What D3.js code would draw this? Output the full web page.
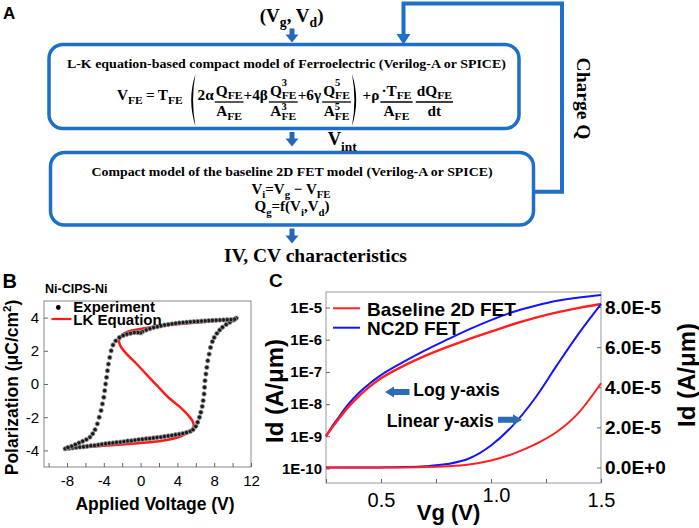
<!DOCTYPE html>
<html><head><meta charset="utf-8">
<script src="https://cdn.jsdelivr.net/npm/d3@7"></script>
<style>body{margin:0;background:#fff}svg{display:block}</style>
</head><body>
<svg id="c" width="699" height="528"></svg>
<script>
// ---------------- DATA ----------------
// Panel B: measured hysteresis (forward branch then reverse branch)
const expV = [-8.2,-7.8,-7.4,-7.0,-6.6,-6.2,-5.8,-5.4,-5.0,-4.6,-4.2,-3.8,-3.4,-3.0,-2.6,-2.2,-1.8,-1.4,-1.0,-0.6,-0.2,0.2,0.6,1.0,1.4,1.8,2.2,2.6,3.0,3.4,3.8,4.2,4.6,5.0,5.4,5.7,6.0,6.2,6.4,6.55,6.7,6.8,6.9,6.95,7.0,7.1,7.2,7.3,7.45,7.6,7.8,8.0,8.3,8.6,8.9,9.3,9.7,10.1,10.4,
  10.2,9.8,9.4,9.0,8.6,8.2,7.8,7.4,7.0,6.6,6.2,5.8,5.4,5.0,4.6,4.2,3.8,3.4,3.0,2.6,2.2,1.8,1.4,1.0,0.6,0.2,0.0,-0.3,-0.7,-1.1,-1.5,-1.9,-2.3,-2.7,-3.0,-3.2,-3.35,-3.5,-3.6,-3.7,-3.8,-3.9,-4.0,-4.15,-4.3,-4.5,-4.7,-4.95,-5.2,-5.5,-5.9,-6.3,-6.7,-7.1,-7.5,-7.9];
const expP = [-3.9,-3.88,-3.85,-3.82,-3.8,-3.78,-3.75,-3.72,-3.7,-3.67,-3.63,-3.6,-3.57,-3.55,-3.52,-3.5,-3.47,-3.43,-3.42,-3.38,-3.35,-3.33,-3.3,-3.28,-3.25,-3.22,-3.2,-3.16,-3.13,-3.1,-3.06,-3.02,-2.98,-2.92,-2.85,-2.75,-2.55,-2.3,-2.0,-1.7,-1.35,-1.0,-0.6,-0.2,0.2,0.6,1.0,1.4,1.8,2.2,2.55,2.8,3.05,3.25,3.42,3.58,3.72,3.85,3.97,
  3.9,3.88,3.87,3.86,3.85,3.84,3.83,3.82,3.8,3.79,3.77,3.76,3.74,3.72,3.7,3.68,3.65,3.62,3.58,3.55,3.5,3.45,3.4,3.33,3.25,3.15,3.08,3.1,3.1,3.05,3.0,2.92,2.8,2.6,2.35,2.0,1.6,1.2,0.8,0.4,0.0,-0.4,-0.8,-1.2,-1.6,-2.0,-2.4,-2.75,-3.0,-3.2,-3.35,-3.45,-3.55,-3.65,-3.75,-3.82];
// Panel B: LK equation S-curve
const lkV = [-8.0,-6,-4,-2,0,2,3.5,4.5,5.3,5.75,5.7,5.2,4.2,3.0,1.8,0.6,-0.5,-1.5,-2.2,-2.35,-2.1,-1.4,-0.2,1.5,3.5,5.5,7.5,9.0,10.3];
const lkP = [-3.88,-3.8,-3.72,-3.64,-3.55,-3.45,-3.3,-3.12,-2.9,-2.6,-2.3,-1.9,-1.35,-0.8,-0.1,0.6,1.25,1.8,2.3,2.6,2.9,3.15,3.3,3.45,3.58,3.68,3.77,3.84,3.92];
const bXTicks = [-10,-8,-6,-4,-2,0,2,4,6,8,10,12];
const bXLabels = [-8,-4,0,4,8,12];
const bYTicks = [-4,-2,0,2,4];

// Panel C: Id-Vg
const vg = [0.25,0.275,0.3,0.35,0.4,0.45,0.5,0.6,0.7,0.8,0.9,1.0,1.1,1.2,1.3,1.4,1.5];
const baseLog = [1.0e-9,1.78e-9,2.95e-9,7.9e-9,1.78e-8,3.55e-8,6.3e-8,1.51e-7,3.16e-7,5.9e-7,1.05e-6,1.78e-6,3.02e-6,4.79e-6,7.08e-6,9.77e-6,1.29e-5];
const ncLog   = [1.0e-9,1.91e-9,3.31e-9,9.55e-9,2.24e-8,4.47e-8,7.94e-8,2.0e-7,4.68e-7,1.0e-6,2.09e-6,4.07e-6,7.24e-6,1.12e-5,1.62e-5,2.04e-5,2.45e-5];
const baseLin = [0,0,0,0,0,0,0,0.005e-5,0.02e-5,0.06e-5,0.15e-5,0.35e-5,0.68e-5,1.15e-5,1.78e-5,2.75e-5,4.2e-5];
const ncLin   = [0,0,0,0,0,0,0.005e-5,0.02e-5,0.06e-5,0.17e-5,0.45e-5,1.1e-5,2.1e-5,3.45e-5,5.1e-5,6.7e-5,8.15e-5];
const cLogTicks = [1e-10,1e-9,1e-8,1e-7,1e-6,1e-5];
const cLinTicks = [0,2e-5,4e-5,6e-5,8e-5];
const cXTicks = [0.25,0.5,0.75,1.0,1.25,1.5];
const cXLabels = [0.5,1.0,1.5];
const cSeries = ["Baseline 2D FET","NC2D FET"];

// ---------------- DRAW ----------------
const svg = d3.select('#c');
const SERIF = "'Liberation Serif','Times New Roman',serif";
const SANS = "'Liberation Sans',Arial,sans-serif";
const BOX = '#1d6fc8', ARW = '#2567b6';

function rich(g, x, y, parts, size, anchor) {
  const t = g.append('text').attr('x', x).attr('y', y).attr('font-size', size).attr('text-anchor', anchor || 'start');
  let cur = 0;
  parts.forEach(p => {
    const s = typeof p === 'string' ? p : p[0];
    const k = typeof p === 'string' ? 'n' : p[1];
    const off = k === 'sub' ? size * 0.3 : (k === 'sup' ? -size * 0.4 : 0);
    const ts = t.append('tspan').attr('dy', off - cur).text(s);
    if (k !== 'n') ts.attr('font-size', size * 0.72);
    cur = off;
  });
  return t;
}
function vArrow(g, cx, y1, y2, col, bw, hw, hl) {
  const p = d3.path();
  p.moveTo(cx - bw/2, y1); p.lineTo(cx + bw/2, y1); p.lineTo(cx + bw/2, y2 - hl);
  p.lineTo(cx + hw/2, y2 - hl); p.lineTo(cx, y2); p.lineTo(cx - hw/2, y2 - hl);
  p.lineTo(cx - bw/2, y2 - hl); p.closePath();
  g.append('path').attr('d', p.toString()).attr('fill', col);
}
function hArrow(g, x1, x2, cy, col, bh, hh, hl) { // head at x2
  const d = x2 > x1 ? 1 : -1;
  const p = d3.path();
  p.moveTo(x1, cy - bh/2); p.lineTo(x2 - d*hl, cy - bh/2); p.lineTo(x2 - d*hl, cy - hh/2);
  p.lineTo(x2, cy); p.lineTo(x2 - d*hl, cy + hh/2); p.lineTo(x2 - d*hl, cy + bh/2);
  p.lineTo(x1, cy + bh/2); p.closePath();
  g.append('path').attr('d', p.toString()).attr('fill', col);
}

// ===== Panel A =====
svg.append('text').attr('x', 3).attr('y', 18.5).attr('font-family', SANS).attr('font-weight', 'bold').attr('font-size', 17).text('A');
const A = svg.append('g').attr('font-family', SERIF).attr('font-weight', 'bold').attr('fill', '#000');
rich(A, 291.6, 21.5, ['(V', ['g','sub'], ', V', ['d','sub'], ')'], 19, 'middle');
vArrow(A, 292, 28.5, 42.5, ARW, 5, 13, 8);
// boxes
A.append('rect').attr('x', 49).attr('y', 44.5).attr('width', 470).attr('height', 84).attr('rx', 14)
  .attr('fill', 'none').attr('stroke', BOX).attr('stroke-width', 3.5);
A.append('rect').attr('x', 50.5).attr('y', 152.5).attr('width', 483).attr('height', 72.5).attr('rx', 14)
  .attr('fill', 'none').attr('stroke', BOX).attr('stroke-width', 3.5);
// feedback loop
A.append('path').attr('d', 'M533.5,191.7H562V3.5H403.5V35').attr('fill', 'none').attr('stroke', BOX).attr('stroke-width', 4);
A.append('path').attr('d', 'M396.5,34H410.5L403.5,44.5Z').attr('fill', BOX);
A.append('text').attr('transform', 'translate(577,98.5) rotate(90)').attr('text-anchor', 'middle').attr('font-size', 19.5).text('Charge Q');

A.append('text').attr('x', 286.4).attr('y', 67.5).attr('text-anchor', 'middle').attr('font-size', 13.5)
  .attr('textLength', 439).attr('lengthAdjust', 'spacingAndGlyphs')
  .text('L-K equation-based compact model of Ferroelectric (Verilog-A or SPICE)');

// equation
const EQ = A.append('g');
(function buildEq(g) {
  const M = 14.5, S = 11, SP = 10, base = 100;
  let x = 0;
  function put(grp, s, xx, y, size) {
    const t = grp.append('text').attr('x', xx).attr('y', y).attr('font-size', size).text(s);
    return t.node().getComputedTextLength();
  }
  function word(s) { x += put(g, s, x, base, M); }
  function sub(s) { x += put(g, s, x, base + 4, S); }
  function gap(w) { x += w; }
  function pieceIn(grp, parts, y0, supOff, subOff) {
    let xx = 0;
    parts.forEach(pt => {
      const w = put(grp, pt[0], xx, y0, M);
      xx += w;
      let w2 = 0;
      if (pt[1]) w2 = Math.max(w2, put(grp, pt[1], xx, y0 + supOff, SP));
      if (pt[2]) w2 = Math.max(w2, put(grp, pt[2], xx, y0 + subOff, S));
      xx += w2;
    });
    return xx;
  }
  function frac(num, den) {
    const gn = g.append('g'), gd = g.append('g');
    const wn = pieceIn(gn, num, 96, -10, 3.5), wd = pieceIn(gd, den, 116, -5.5, 4);
    const w = Math.max(wn, wd) + 2;
    gn.attr('transform', `translate(${x + (w - wn) / 2},0)`);
    gd.attr('transform', `translate(${x + (w - wd) / 2},0)`);
    g.append('line').attr('x1', x).attr('x2', x + w).attr('y1', 102).attr('y2', 102).attr('stroke', '#000').attr('stroke-width', 1.3);
    x += w;
  }
  function paren(left) {
    const a = x + (left ? 9 : 1), b = x + (left ? 1 : 9);
    const c = x + (left ? 4.5 : 5.5);
    g.append('path').attr('d', `M${a},74Q${b},100 ${a},126Q${c},100 ${a},74Z`).attr('fill', '#000');
    x += 11;
  }
  word('V'); sub('FE'); gap(3); word('='); gap(3); word('T'); sub('FE'); gap(3);
  paren(true);
  word('2α'); gap(1);
  frac([['Q', null, 'FE']], [['A', null, 'FE']]);
  word('+4β'); gap(1);
  frac([['Q', '3', 'FE']], [['A', '3', 'FE']]);
  word('+6γ'); gap(1);
  frac([['Q', '5', 'FE']], [['A', '5', 'FE']]);
  paren(false);
  word('+ρ'); gap(1);
  frac([['·T', null, 'FE']], [['A', null, 'FE']]);
  gap(3);
  frac([['dQ', null, 'FE']], [['dt']]);
})(EQ);
{
  const bb = EQ.node().getBBox();
  const k = (453 - 117) / bb.width;
  EQ.attr('transform', `translate(117,0) scale(${k},1) translate(${-bb.x},0)`);
}

vArrow(A, 292, 132, 146.5, ARW, 5, 13, 8);
rich(A, 327.7, 145, ['V', ['int', 'sub']], 18.5, 'start');

A.append('text').attr('x', 292).attr('y', 175.5).attr('text-anchor', 'middle').attr('font-size', 13.5)
  .attr('textLength', 401).attr('lengthAdjust', 'spacingAndGlyphs')
  .text('Compact model of the baseline 2D FET model (Verilog-A or SPICE)');
rich(A, 291, 193.5, ['V', ['i', 'sub'], '=V', ['g', 'sub'], ' − V', ['FE', 'sub']], 15, 'middle');
rich(A, 292, 211, ['Q', ['g', 'sub'], '=f(V', ['i', 'sub'], ',V', ['d', 'sub'], ')'], 15, 'middle');
vArrow(A, 292, 228.5, 243.5, ARW, 5, 13, 8);
A.append('text').attr('x', 315.5).attr('y', 261.5).attr('text-anchor', 'middle').attr('font-size', 19.5).text('IV, CV characteristics');

// ===== Panel B =====
const bx = d3.scaleLinear().domain([-10.5, 12]).range([44, 251]);
const by = d3.scaleLinear().domain([-5, 5]).range([467, 301]);
const B = svg.append('g').attr('font-family', SANS);
svg.append('text').attr('x', 2.5).attr('y', 288.3).attr('font-family', SANS).attr('font-weight', 'bold').attr('font-size', 20).text('B');
B.append('text').attr('x', 45).attr('y', 293).attr('font-weight', 'bold').attr('font-size', 12.5).text('Ni-CIPS-Ni');
B.append('rect').attr('x', bx.range()[0]).attr('y', by.range()[1]).attr('width', bx.range()[1] - bx.range()[0])
  .attr('height', by.range()[0] - by.range()[1]).attr('fill', 'none').attr('stroke', '#888').attr('stroke-width', 1);
function styleAxis(g, size, weight) {
  g.select('.domain').remove();
  g.selectAll('.tick line').attr('stroke', '#666');
  g.selectAll('.tick text').attr('fill', '#000').attr('font-family', SANS).attr('font-size', size).attr('font-weight', weight);
}
B.append('g').attr('transform', `translate(0,${by.range()[0]})`)
  .call(d3.axisBottom(bx).tickValues(bXTicks).tickSize(-4).tickPadding(8).tickFormat(d => bXLabels.includes(d) ? String(d) : ''))
  .call(g => styleAxis(g, 15, 'normal'));
B.append('g').attr('transform', `translate(${bx.range()[0]},0)`)
  .call(d3.axisLeft(by).tickValues(bYTicks).tickSize(-4).tickPadding(5).tickFormat(d => String(d)))
  .call(g => styleAxis(g, 15, 'normal'));
// LK curve
B.append('path').datum(lkV.map((v, i) => [v, lkP[i]]))
  .attr('d', d3.line().x(d => bx(d[0])).y(d => by(d[1])).curve(d3.curveCatmullRom.alpha(0.5)))
  .attr('fill', 'none').attr('stroke', '#ff1a1a').attr('stroke-width', 2.5);
// experiment dots
B.append('g').selectAll('circle').data(expV.map((v, i) => [v, expP[i]])).join('circle')
  .attr('cx', d => bx(d[0])).attr('cy', d => by(d[1])).attr('r', 2.2)
  .attr('fill', '#1a1a1a').attr('stroke', '#9a9a9a').attr('stroke-width', 0.8);
// legend
B.append('circle').attr('cx', 58.3).attr('cy', 307.5).attr('r', 2.4).attr('fill', '#000');
B.append('text').attr('x', 73.3).attr('y', 311.5).attr('font-weight', 'bold').attr('font-size', 15).text('Experiment');
B.append('line').attr('x1', 51.5).attr('x2', 71.5).attr('y1', 319).attr('y2', 319).attr('stroke', '#ff1a1a').attr('stroke-width', 2.2);
B.append('text').attr('x', 73.3).attr('y', 324.5).attr('font-weight', 'bold').attr('font-size', 15).text('LK Equation');
B.append('text').attr('transform', 'translate(17.5,387.5) rotate(-90)').attr('text-anchor', 'middle')
  .attr('font-weight', 'bold').attr('font-size', 17.5)
  .call(t => { t.append('tspan').text('Polarization (μC/cm'); t.append('tspan').attr('font-size', 11.5).attr('dy', -7).text('2'); t.append('tspan').attr('dy', 7).text(')'); });
B.append('text').attr('x', 155).attr('y', 510).attr('text-anchor', 'middle').attr('font-weight', 'bold').attr('font-size', 17.5).text('Applied Voltage (V)');

// ===== Panel C =====
const cx = d3.scaleLinear().domain([0.25, 1.5]).range([326, 601]);
const cyLog = d3.scaleLog().domain([1e-10, 1e-5]).range([468.5, 307.5]);
const cyLin = d3.scaleLinear().domain([0, 8e-5]).range([467.5, 307]);
const cTop = 292, cBot = 483;
const C = svg.append('g').attr('font-family', SANS);
svg.append('text').attr('x', 269).attr('y', 287).attr('font-family', SANS).attr('font-weight', 'bold').attr('font-size', 19).text('C');
C.append('rect').attr('x', cx.range()[0]).attr('y', cTop).attr('width', cx.range()[1] - cx.range()[0]).attr('height', cBot - cTop)
  .attr('fill', 'none').attr('stroke', '#999').attr('stroke-width', 1);
C.append('g').attr('transform', `translate(${cx.range()[0]},0)`)
  .call(d3.axisLeft(cyLog).tickValues(cLogTicks).tickSize(-4).tickPadding(4).tickFormat(d => '1E' + Math.round(Math.log10(d))))
  .call(g => styleAxis(g, 15, 'bold'));
C.append('g').attr('transform', `translate(${cx.range()[1]},0)`)
  .call(d3.axisRight(cyLin).tickValues(cLinTicks).tickSize(-4).tickPadding(4).tickFormat(d => d === 0 ? '0.0E+0' : (d / 1e-5).toFixed(1) + 'E-5'))
  .call(g => styleAxis(g, 19, 'bold'));
C.append('g').attr('transform', `translate(0,${cBot})`)
  .call(d3.axisBottom(cx).tickValues(cXTicks).tickSize(-4).tickPadding(10).tickFormat(d => cXLabels.includes(d) ? d.toFixed(1) : ''))
  .call(g => styleAxis(g, 20, 'normal'))
  .call(g => g.selectAll('.tick text').filter(d => d === 1.0).attr('x', 5).attr('y', 5));
const lnLog = d3.line().x((d, i) => cx(vg[i])).y(d => cyLog(d)).curve(d3.curveMonotoneX);
const lnLin = d3.line().x((d, i) => cx(vg[i])).y(d => cyLin(d)).curve(d3.curveMonotoneX);
const RED = '#ff2020', BLUE = '#1414ff';
C.append('path').datum(ncLog).attr('d', lnLog).attr('fill', 'none').attr('stroke', BLUE).attr('stroke-width', 2);
C.append('path').datum(baseLog).attr('d', lnLog).attr('fill', 'none').attr('stroke', RED).attr('stroke-width', 2.4);
C.append('path').datum(ncLin).attr('d', lnLin).attr('fill', 'none').attr('stroke', BLUE).attr('stroke-width', 2);
C.append('path').datum(baseLin).attr('d', lnLin).attr('fill', 'none').attr('stroke', RED).attr('stroke-width', 2);
// legend
C.append('line').attr('x1', 333).attr('x2', 360).attr('y1', 308.3).attr('y2', 308.3).attr('stroke', RED).attr('stroke-width', 2);
C.append('text').attr('x', 367).attr('y', 315.5).attr('font-weight', 'bold').attr('font-size', 19).text(cSeries[0]);
C.append('line').attr('x1', 333).attr('x2', 360).attr('y1', 327.7).attr('y2', 327.7).attr('stroke', BLUE).attr('stroke-width', 2);
C.append('text').attr('x', 367).attr('y', 335).attr('font-weight', 'bold').attr('font-size', 19).text(cSeries[1]);
// annotations
hArrow(C, 409.5, 385, 392, '#2a6cb3', 6, 11, 9);
C.append('text').attr('x', 413.3).attr('y', 396).attr('font-weight', 'bold').attr('font-size', 17.5).text('Log y-axis');
C.append('text').attr('x', 386.7).attr('y', 426.7).attr('font-weight', 'bold').attr('font-size', 17.5).text('Linear y-axis');
hArrow(C, 498, 522, 419.7, '#2a6cb3', 6, 11, 9);
// axis titles
C.append('text').attr('x', 448.5).attr('y', 520).attr('text-anchor', 'middle').attr('font-weight', 'bold').attr('font-size', 22).text('Vg (V)');
C.append('text').attr('transform', 'translate(283,391) rotate(-90)').attr('text-anchor', 'middle').attr('font-weight', 'bold').attr('font-size', 24).text('Id (A/μm)');
C.append('text').attr('transform', 'translate(695,375) rotate(-90)').attr('text-anchor', 'middle').attr('font-weight', 'bold').attr('font-size', 24).text('Id (A/μm)');
</script>
</body></html>
